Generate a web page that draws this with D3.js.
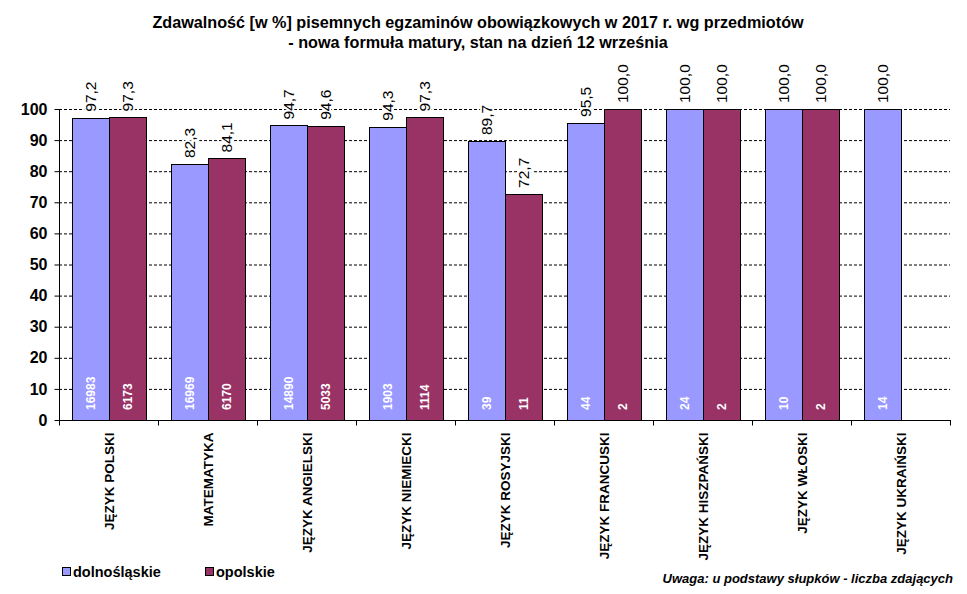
<!DOCTYPE html>
<html>
<head>
<meta charset="utf-8">
<script src="https://cdn.jsdelivr.net/npm/d3@7"></script>
<style>
  body { margin: 0; background: #fff; }
  svg { font-family: Arial, "Liberation Sans", sans-serif; }
</style>
</head>
<body>
<svg id="chart" width="967" height="594"></svg>
<script>
// data
const subjects = ['JĘZYK POLSKI', 'MATEMATYKA', 'JĘZYK ANGIELSKI', 'JĘZYK NIEMIECKI', 'JĘZYK ROSYJSKI',
  'JĘZYK FRANCUSKI', 'JĘZYK HISZPAŃSKI', 'JĘZYK WŁOSKI', 'JĘZYK UKRAIŃSKI'];
const seriesNames = ['dolnośląskie', 'opolskie'];
const dolnoslaskie = [97.2, 82.3, 94.7, 94.3, 89.7, 95.5, 100.0, 100.0, 100.0];
const opolskie = [97.3, 84.1, 94.6, 97.3, 72.7, 100.0, 100.0, 100.0, null];
const dolnoslaskieCount = [16983, 16969, 14890, 1903, 39, 44, 24, 10, 14];
const opolskieCount = [6173, 6170, 5033, 1114, 11, 2, 2, 2, null];
const yTicks = [0, 10, 20, 30, 40, 50, 60, 70, 80, 90, 100];
const colors = ['#9999FF', '#993366'];

const svg = d3.select('#chart');
const margin = { left: 59, right: 950, top: 109, bottom: 420 };

const x = d3.scaleBand().domain(subjects).range([margin.left, margin.right]);
const xs = d3.scaleBand().domain([0, 1]).range([0, x.bandwidth()]).paddingOuter(0.34);
const y = d3.scaleLinear().domain([0, 100]).range([margin.bottom, margin.top]);

const fmt = v => v.toFixed(1).replace('.', ',');

// title
const title = svg.append('g').attr('font-weight', 'bold').attr('font-size', 16.2).attr('text-anchor', 'middle');
title.append('text').attr('x', 478).attr('y', 28).text('Zdawalność [w %] pisemnych egzaminów obowiązkowych w 2017 r. wg przedmiotów');
title.append('text').attr('x', 478).attr('y', 48).text('- nowa formuła matury, stan na dzień 12 września');

// gridlines
svg.append('g')
  .selectAll('line')
  .data(yTicks.filter(d => d > 0))
  .join('line')
    .attr('x1', margin.left).attr('x2', margin.right)
    .attr('y1', d => y(d) + 0.5).attr('y2', d => y(d) + 0.5)
    .attr('stroke', '#000')
    .attr('stroke-width', 1)
    .attr('stroke-dasharray', '3,2');

// bars
const series = [
  { vals: dolnoslaskie, counts: dolnoslaskieCount },
  { vals: opolskie, counts: opolskieCount }
];

series.forEach((s, si) => {
  const g = svg.append('g');
  const items = subjects.map((c, i) => ({ c, v: s.vals[i], n: s.counts[i] })).filter(d => d.v != null);
  g.selectAll('rect')
    .data(items)
    .join('rect')
      .attr('x', d => Math.round(x(d.c) + xs(si)) + 0.5)
      .attr('y', d => Math.round(y(d.v)) + 0.5)
      .attr('width', Math.round(xs.bandwidth()))
      .attr('height', d => Math.round(y(0)) - Math.round(y(d.v)))
      .attr('fill', colors[si])
      .attr('stroke', '#000')
      .attr('stroke-width', 1);
});

// labels on top of bars and counts at the base
series.forEach((s, si) => {
  const g = svg.append('g');
  const items = subjects.map((c, i) => ({ c, v: s.vals[i], n: s.counts[i] })).filter(d => d.v != null);
  g.selectAll('text.val')
    .data(items)
    .join('text')
      .attr('class', 'val')
      .attr('transform', d => `translate(${x(d.c) + xs(si) + xs.bandwidth() / 2 + 6},${y(d.v) - 6}) rotate(-90)`)
      .attr('font-size', 15.5)
      .attr('fill', '#000')
      .attr('stroke', '#fff')
      .attr('stroke-width', 4)
      .attr('paint-order', 'stroke')
      .text(d => fmt(d.v));

  g.selectAll('text.cnt')
    .data(items)
    .join('text')
      .attr('class', 'cnt')
      .attr('transform', d => `translate(${x(d.c) + xs(si) + xs.bandwidth() / 2 + 5},${y(0) - 10}) rotate(-90)`)
      .attr('font-size', 12)
      .attr('font-weight', 'bold')
      .attr('fill', '#fff')
      .text(d => d.n);
});

// y axis
const yAxis = svg.append('g')
  .attr('transform', `translate(${margin.left + 0.5},0)`)
  .call(d3.axisLeft(y).tickValues(yTicks).tickSize(5).tickPadding(7));
yAxis.select('.domain').attr('stroke', '#000').attr('d', `M0,${y(100)}V${y(0)}`);
yAxis.selectAll('.tick line').attr('stroke', '#000');
yAxis.selectAll('text').attr('font-size', 16).attr('font-weight', 'bold').attr('font-family', 'Arial, "Liberation Sans", sans-serif').attr('fill', '#000');

// x axis
const xAxis = svg.append('g').attr('transform', `translate(0,${margin.bottom + 0.5})`);
xAxis.append('line').attr('x1', margin.left).attr('x2', margin.right + 1).attr('stroke', '#000');
xAxis.selectAll('line.tick')
  .data(subjects.concat(['end']))
  .join('line')
    .attr('class', 'tick')
    .attr('x1', (d, i) => (i < subjects.length ? x(d) : margin.right) + 0.5)
    .attr('x2', (d, i) => (i < subjects.length ? x(d) : margin.right) + 0.5)
    .attr('y1', 0).attr('y2', 5)
    .attr('stroke', '#000');
xAxis.selectAll('text')
  .data(subjects)
  .join('text')
    .attr('transform', d => `translate(${x(d) + x.bandwidth() / 2 + 5},12) rotate(-90)`)
    .attr('text-anchor', 'end')
    .attr('font-size', 13.5)
    .attr('font-weight', 'bold')
    .text(d => d);

// legend
const legend = svg.append('g').attr('font-size', 14.5).attr('font-weight', 'bold');
const legendX = [62, 205];
seriesNames.forEach((name, i) => {
  legend.append('rect')
    .attr('x', legendX[i] + 0.5).attr('y', 567.5)
    .attr('width', 8).attr('height', 8)
    .attr('fill', colors[i]).attr('stroke', '#000');
  legend.append('text').attr('x', legendX[i] + 11).attr('y', 577).text(name);
});

// note
svg.append('text')
  .attr('x', 953).attr('y', 583)
  .attr('text-anchor', 'end')
  .attr('font-size', 13)
  .attr('font-weight', 'bold')
  .attr('font-style', 'italic')
  .text('Uwaga:  u podstawy  słupków - liczba zdających');
</script>
</body>
</html>
